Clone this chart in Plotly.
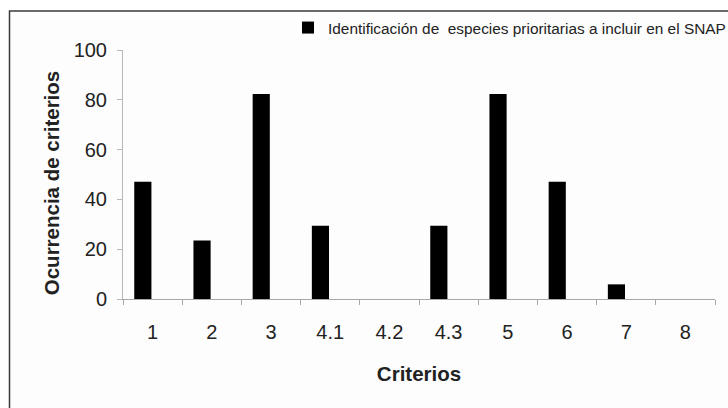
import plotly.graph_objects as go

categories = ["1", "2", "3", "4.1", "4.2", "4.3", "5", "6", "7", "8"]
values = [47.06, 23.53, 82.35, 29.41, 0, 29.41, 82.35, 47.06, 5.88, 0]
series_name = "Identificación de \u00a0especies prioritarias a incluir en el SNAP"
y_ticks = [0, 20, 40, 60, 80, 100]
x_title = "Criterios"
y_title = "Ocurrencia de criterios"

W, H = 728, 408
L, R, T, B = 123, 13, 49.5, 109
pw = W - L - R
ph = H - T - B

def px_x(px):
    return (px - L) / pw

def px_y(py):
    return (H - B - py) / ph

fig = go.Figure()
fig.add_trace(go.Bar(
    x=categories, y=values, name=series_name,
    marker=dict(color="#000000", line=dict(width=0)),
    offset=-0.31, width=0.29,
    showlegend=True,
))

fig.add_shape(type="rect", xref="paper", yref="paper",
              x0=px_x(9.5), x1=px_x(760), y0=px_y(440), y1=px_y(10.5),
              line=dict(color="#3a3a3a", width=1.5), fillcolor="#fdfdfd", layer="below")

fig.add_annotation(text="<b>" + y_title + "</b>", xref="paper", yref="paper",
                   x=px_x(51), y=px_y(183), xanchor="center", yanchor="middle",
                   textangle=-90, showarrow=False,
                   font=dict(size=20.5, color="#222222"))

fig.update_layout(
    width=W, height=H,
    margin=dict(l=L, r=R, t=T, b=B, autoexpand=False),
    paper_bgcolor="white", plot_bgcolor="rgba(0,0,0,0)",
    font=dict(family="Liberation Sans, Arial, sans-serif", color="#222222"),
    showlegend=True,
    legend=dict(x=px_x(288), xanchor="left", y=px_y(27.5), yanchor="middle",
                bgcolor="rgba(0,0,0,0)", font=dict(size=15.4, color="#222222"),
                itemwidth=30),
)
fig.update_xaxes(
    type="category", range=[-0.5, len(categories) - 0.5],
    showline=True, linecolor="#a8a8a8", linewidth=1,
    ticks="outside", ticklen=5, tickcolor="#a8a8a8", tickson="boundaries",
    tickfont=dict(size=20, color="#222222"), ticklabelstandoff=15,
    showgrid=False, zeroline=False,
    title=dict(text="<b>" + x_title + "</b>", font=dict(size=20.5, color="#222222"), standoff=24),
)
fig.update_yaxes(
    range=[0, 100], tickvals=y_ticks,
    showline=True, linecolor="#b8b8b8", linewidth=1,
    ticks="outside", ticklen=5, tickcolor="#b8b8b8",
    tickfont=dict(size=20, color="#222222"), ticklabelstandoff=6,
    showgrid=False, zeroline=False,
)

fig.write_html("out.html", config={"displayModeBar": False},
               post_script="document.body.style.margin='0';document.body.style.padding='0';")
